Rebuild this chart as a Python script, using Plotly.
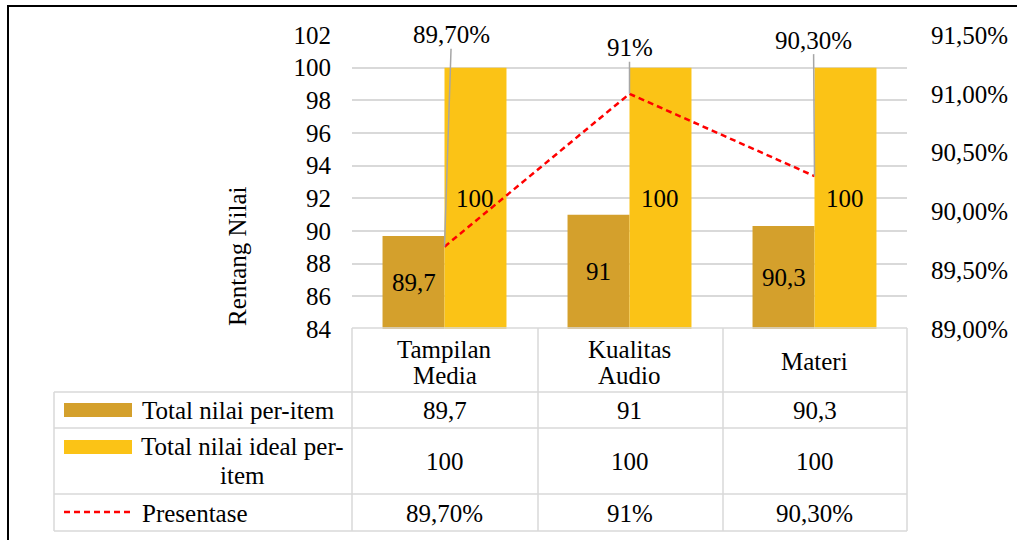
import plotly.graph_objects as go

# ---------------- data ----------------
categories = ["Tampilan Media", "Kualitas Audio", "Materi"]
total_nilai = [89.7, 91, 90.3]
total_ideal = [100, 100, 100]
presentase = [0.897, 0.91, 0.903]
presentase_labels = ["89,70%", "91%", "90,30%"]
series_names = ["Total nilai per-item", "Total nilai ideal per-item", "Presentase"]
left_ticks = list(range(84, 103, 2))
right_ticks = [0.89, 0.895, 0.90, 0.905, 0.91, 0.915]
y_title = "Rentang Nilai"

# ---------------- style ----------------
W, H = 1017, 540
FONT = "Liberation Serif"
FS = 25
DARK = "#D4A02C"
LIGHT = "#FBC316"
RED = "#FF0000"
GRID = "#D9D9D9"
TABLE = "#D9D9D9"
DASH = "6px,4px"

# plot area in pixels
PX0, PX1 = 352, 907
PY_TOP, PY_BOT = 35, 329
Y_MIN, Y_MAX = 84, 102
BARGAP = 0.33
BAR_PX = (PX1 - PX0) / len(categories) * (1 - BARGAP) / 2


def px(x):
    return x / W


def py(y):
    return 1 - y / H


def num(v):
    return f"{v:g}".replace(".", ",")


fig = go.Figure()

fig.add_trace(go.Bar(
    x=categories, y=total_nilai, name=series_names[0],
    marker=dict(color=DARK, line=dict(width=0)),
    showlegend=False,
))
fig.add_trace(go.Bar(
    x=categories, y=total_ideal, name=series_names[1],
    marker=dict(color=LIGHT, line=dict(width=0)),
    showlegend=False,
))
fig.add_trace(go.Scatter(
    x=categories, y=presentase, name=series_names[2], yaxis="y2",
    mode="lines", line=dict(color=RED, width=2.5, dash=DASH),
    showlegend=False,
))

annotations = []
# bar value labels (centred in the visible part of each bar)
for vals, shift in ((total_nilai, -BAR_PX / 2), (total_ideal, BAR_PX / 2)):
    for c, v in zip(categories, vals):
        annotations.append(dict(
            x=c, y=(Y_MIN + v) / 2, xref="x", yref="y", xshift=shift,
            text=num(v), showarrow=False, xanchor="center", yanchor="middle",
            font=dict(family=FONT, size=FS, color="black")))

# leader-line data labels for the percentage line
offsets = [(7, -212), (0, -46), (-1, -136)]
for c, v, lab, (ax, ay) in zip(categories, presentase, presentase_labels, offsets):
    annotations.append(dict(
        x=c, y=v, xref="x", yref="y2", text=lab, showarrow=True,
        arrowhead=0, arrowwidth=1.5, arrowcolor="#A6A6A6", ax=ax, ay=ay,
        standoff=0, borderpad=0,
        font=dict(family=FONT, size=FS, color="black"),
    ))

# y axis title
annotations.append(dict(
    x=px(237), y=py(256), xref="paper", yref="paper", text=y_title,
    textangle=-90, showarrow=False, xanchor="center", yanchor="middle",
    font=dict(family=FONT, size=FS, color="black"),
))

shapes = []
# outer border (left + top visible)
shapes.append(dict(type="rect", xref="paper", yref="paper",
                   x0=px(8), x1=1.02, y0=-0.02, y1=py(6),
                   line=dict(color="black", width=2), layer="below"))

# ---------------- data table ----------------
ROW_Y = [328, 392, 428, 494, 531]
COL_X = [PX0, 538, 723, PX1]
TBL_LEFT = 54
lw = 1.5
shapes.append(dict(type="line", xref="paper", yref="paper",
                   x0=px(PX0), x1=px(PX1), y0=py(ROW_Y[0]), y1=py(ROW_Y[0]),
                   line=dict(color=TABLE, width=lw)))
for yy in ROW_Y[1:]:
    shapes.append(dict(type="line", xref="paper", yref="paper",
                       x0=px(TBL_LEFT), x1=px(PX1), y0=py(yy), y1=py(yy),
                       line=dict(color=TABLE, width=lw)))
for xx in COL_X:
    shapes.append(dict(type="line", xref="paper", yref="paper",
                       x0=px(xx), x1=px(xx), y0=py(ROW_Y[0]), y1=py(ROW_Y[-1]),
                       line=dict(color=TABLE, width=lw)))
shapes.append(dict(type="line", xref="paper", yref="paper",
                   x0=px(TBL_LEFT), x1=px(TBL_LEFT), y0=py(ROW_Y[1]), y1=py(ROW_Y[-1]),
                   line=dict(color=TABLE, width=lw)))

# header (category names, wrapped)
for c in categories:
    parts = c.split(" ")
    ys = [361] if len(parts) == 1 else [349, 375]
    for part, yy in zip(parts, ys):
        annotations.append(dict(
            x=c, y=py(yy), xref="x", yref="paper", text=part, showarrow=False,
            xanchor="center", yanchor="middle",
            font=dict(family=FONT, size=FS, color="black")))

# row values
row_centers = [410, 461, 513]
row_vals = [
    [num(v) for v in total_nilai],
    [num(v) for v in total_ideal],
    presentase_labels,
]
for yy, vals in zip(row_centers, row_vals):
    for c, t in zip(categories, vals):
        annotations.append(dict(
            x=c, y=py(yy), xref="x", yref="paper", text=t, showarrow=False,
            xanchor="center", yanchor="middle",
            font=dict(family=FONT, size=FS, color="black")))

# row labels with legend keys
annotations.append(dict(
    x=px(140), y=py(410), xref="paper", yref="paper", text=series_names[0],
    showarrow=False, xanchor="left", yanchor="middle",
    font=dict(family=FONT, size=FS, color="black")))
wrapped = ["Total nilai ideal per-", "item"]
for t, yy in zip(wrapped, [447, 475]):
    annotations.append(dict(
        x=px(242), y=py(yy), xref="paper", yref="paper", text=t,
        showarrow=False, xanchor="center", yanchor="middle",
        font=dict(family=FONT, size=FS, color="black")))
annotations.append(dict(
    x=px(140), y=py(513), xref="paper", yref="paper", text=series_names[2],
    showarrow=False, xanchor="left", yanchor="middle",
    font=dict(family=FONT, size=FS, color="black")))

shapes.append(dict(type="rect", xref="paper", yref="paper",
                   x0=px(64), x1=px(132), y0=py(417), y1=py(403),
                   fillcolor=DARK, line=dict(width=0)))
shapes.append(dict(type="rect", xref="paper", yref="paper",
                   x0=px(64), x1=px(132), y0=py(454), y1=py(440),
                   fillcolor=LIGHT, line=dict(width=0)))
shapes.append(dict(type="line", xref="paper", yref="paper",
                   x0=px(64), x1=px(132), y0=py(512), y1=py(512),
                   line=dict(color=RED, width=2.5, dash=DASH)))

fig.update_layout(
    template="none",
    width=W, height=H, autosize=False,
    margin=dict(l=0, r=0, t=0, b=0, pad=0, autoexpand=False),
    paper_bgcolor="white", plot_bgcolor="white",
    separators=",.",
    barmode="group", bargap=BARGAP, bargroupgap=0,
    font=dict(family=FONT, size=FS, color="black"),
    showlegend=False,
    xaxis=dict(domain=[px(PX0), px(PX1)], showticklabels=False, showgrid=False,
               zeroline=False, showline=False, ticks="", automargin=False),
    yaxis=dict(domain=[py(PY_BOT), py(PY_TOP)], range=[Y_MIN, Y_MAX],
               tickvals=left_ticks, ticktext=[str(v) for v in left_ticks],
               showgrid=True, gridcolor=GRID, gridwidth=1.5,
               zeroline=False, showline=False, automargin=False,
               ticks="outside", ticklen=15, tickcolor="rgba(0,0,0,0)",
               tickfont=dict(family=FONT, size=FS, color="black")),
    yaxis2=dict(overlaying="y", side="right", range=[0.89, 0.915],
                tickvals=right_ticks, tickformat=".2%",
                showgrid=False, zeroline=False, showline=False, automargin=False,
                ticks="outside", ticklen=18, tickcolor="rgba(0,0,0,0)",
                tickfont=dict(family=FONT, size=FS, color="black")),
    annotations=annotations,
    shapes=shapes,
)

fig.write_html("out.html")
